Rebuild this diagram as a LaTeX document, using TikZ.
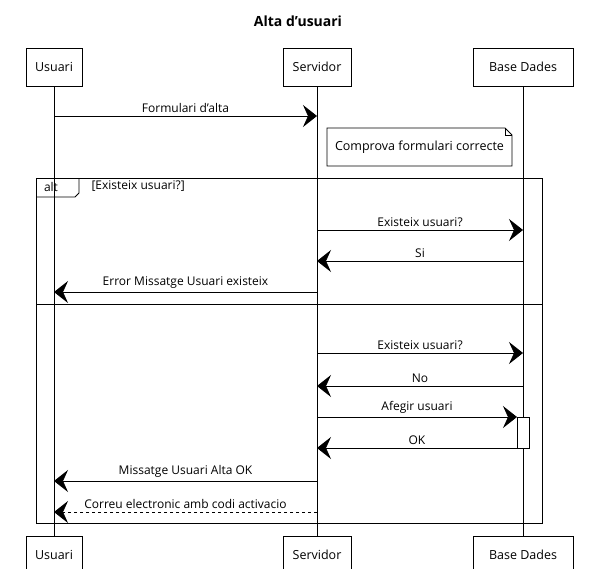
\documentclass[tikz,border=0pt]{standalone}
\usepackage{fontspec}
\setmainfont{Open Sans}
\usetikzlibrary{arrows.meta}

\tikzset{
  part/.style={draw,line width=0.8pt,minimum height=38pt,inner sep=0pt,font=\fontsize{12.5}{14}\selectfont},
  msg/.style={line width=0.8pt,-{Stealth[length=14pt,width=22pt,inset=5pt]}},
  lbl/.style={font=\fontsize{12}{14}\selectfont,above=0pt,midway},
  life/.style={line width=0.6pt}
}

\begin{document}
\begin{tikzpicture}[x=1pt,y=-1pt]
\useasboundingbox (0,0) rectangle (594,568);
% participants a dalt i a baix
\node[font=\bfseries\fontsize{14}{16}\selectfont] (title) at (298,21) {Alta d'usuari};
\node[part,minimum width=56pt] (u1) at (54,67) {Usuari};
\node[part,minimum width=68pt] (s1) at (317,67) {Servidor};
\node[part,minimum width=100pt] (b1) at (523,67) {Base Dades};
\node[part,minimum width=56pt] (u2) at (54,555) {Usuari};
\node[part,minimum width=68pt] (s2) at (317,555) {Servidor};
\node[part,minimum width=100pt] (b2) at (523,555) {Base Dades};
\draw[life] (u1) -- (u2);
\draw[life] (s1) -- (s2);
\draw[life] (b1) -- (b2);
% files dels missatges
\coordinate (r1) at (0,116);
\coordinate (r2) at (0,230);
\coordinate (r3) at (0,261);
\coordinate (r4) at (0,292);
\coordinate (r5) at (0,353);
\coordinate (r6) at (0,386);
\coordinate (r7) at (0,417);
\coordinate (r8) at (0,448);
\coordinate (r9) at (0,481);
\coordinate (r10) at (0,512);
% nota
\draw[line width=0.8pt,fill=white] (327,128) -- (505,128) -- (512,135) -- (512,166) -- (327,166) -- cycle;
\draw[line width=0.6pt] (505,128) -- (505,135) -- (512,135);
\node[font=\fontsize{12.5}{14}\selectfont] (nota) at (419.5,147) {Comprova formulari correcte};
% alt
\draw[line width=0.8pt] (36,178) rectangle (542,523);
\draw[line width=0.8pt] (36,197) -- (75,197) -- (79,193) -- (79,178);
\node[font=\fontsize{12}{14}\selectfont] (alt) at (51,187) {alt};
\node[font=\fontsize{12}{14}\selectfont,anchor=west] (cond) at (88,186) {[Existeix usuari?]};
\draw[line width=0.8pt] (36,304) -- (542,304);
% activacio
\draw[line width=0.8pt,fill=white] (517,417) rectangle (529,448);
\coordinate (act) at (517,417);
% missatges
\draw[msg] (u1 |- r1) -- (s1 |- r1) node[lbl] {Formulari d'alta};
\draw[msg] (s1 |- r2) -- (b1 |- r2) node[lbl] {Existeix usuari?};
\draw[msg] (b1 |- r3) -- (s1 |- r3) node[lbl] {Si};
\draw[msg] (s1 |- r4) -- (u1 |- r4) node[lbl] {Error Missatge Usuari existeix};
\draw[msg] (s1 |- r5) -- (b1 |- r5) node[lbl] {Existeix usuari?};
\draw[msg] (b1 |- r6) -- (s1 |- r6) node[lbl] {No};
\draw[msg] (s1 |- r7) -- (act |- r7) node[lbl] {Afegir usuari};
\draw[msg] (act |- r8) -- (s1 |- r8) node[lbl] {OK};
\draw[msg] (s1 |- r9) -- (u1 |- r9) node[lbl] {Missatge Usuari Alta OK};
\draw[msg,dashed] (s1 |- r10) -- (u1 |- r10) node[lbl] {Correu electronic amb codi activacio};
\end{tikzpicture}
\end{document}
